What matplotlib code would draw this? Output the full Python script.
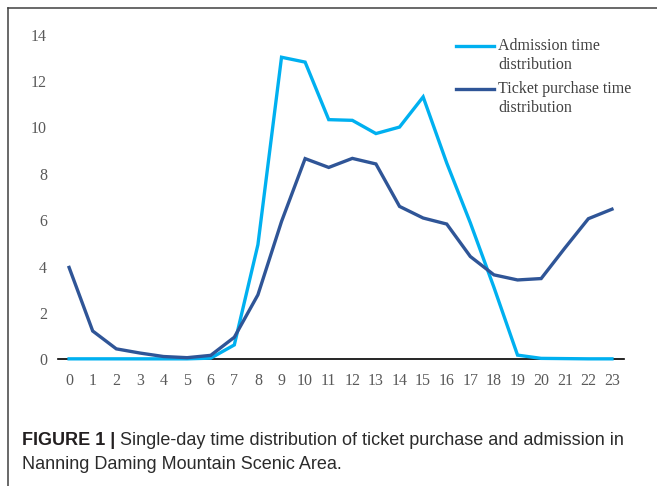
import matplotlib
matplotlib.use('Agg')
import matplotlib.pyplot as plt
from matplotlib.lines import Line2D

hours = list(range(24))
admission = [0.02, 0.02, 0.02, 0.02, 0.02, 0.02, 0.05, 0.62, 4.94, 13.02, 12.81, 10.33,
             10.30, 9.73, 10.01, 11.31, 8.46, 5.88, 3.10, 0.18, 0.04, 0.03, 0.02, 0.02]
ticket = [3.96, 1.22, 0.45, 0.27, 0.12, 0.07, 0.17, 0.95, 2.78, 5.94, 8.65, 8.27,
          8.66, 8.42, 6.59, 6.09, 5.83, 4.43, 3.64, 3.42, 3.48, 4.79, 6.06, 6.47]
y_ticks = [0, 2, 4, 6, 8, 10, 12, 14]
labels = ['Admission time\ndistribution', 'Ticket purchase time\ndistribution']

light = '#00b0f0'
dark = '#2f5597'
serif = ['Liberation Serif', 'DejaVu Serif']

fig = plt.figure(figsize=(6.57, 4.86), dpi=100)
ax = fig.add_axes([58 / 657, 1 - 359.3 / 486, (624 - 58) / 657, (359.3 - 34.5) / 486])

ax.plot(hours, admission, color=light, lw=2.4, solid_joinstyle='miter', clip_on=False, zorder=3)
ax.plot(hours, ticket, color=dark, lw=2.4, solid_joinstyle='miter', clip_on=False, zorder=3)

ax.set_xlim(-0.47, 23.51)
ax.set_ylim(0, 14)
ax.set_xticks(hours)
ax.set_yticks(y_ticks)
ax.tick_params(length=0, labelcolor='#595959', labelsize=11.5)
ax.tick_params(axis='x', pad=10)
ax.tick_params(axis='y', pad=8)
for lab in ax.get_xticklabels() + ax.get_yticklabels():
    lab.set_family(serif)
for s in ['top', 'right', 'left']:
    ax.spines[s].set_visible(False)
ax.spines['bottom'].set_color('black')
ax.spines['bottom'].set_linewidth(1.2)

# legend drawn by hand so the handle sits on the first text line
for i, (lab, col) in enumerate(zip(labels, [light, dark])):
    y = 1 - (45.5 + 43.5 * i - 34.5) / 324.8
    ax.add_line(Line2D([(456 - 58) / 566, (494 - 58) / 566], [y, y], color=col, lw=2.4,
                       transform=ax.transAxes, clip_on=False))
    ax.text((498 - 58) / 566, y + 0.024, lab, transform=ax.transAxes, va='top', ha='left',
            fontsize=11.5, color='#404040', family=serif, linespacing=1.25)

# frame of the figure panel (left and top only)
fig.add_artist(Line2D([8 / 657, 8 / 657], [0, 1 - 8 / 486], color='#404040', lw=1.1))
fig.add_artist(Line2D([8 / 657, 1], [1 - 8 / 486, 1 - 8 / 486], color='#404040', lw=1.1))

# caption
cap = ['Liberation Sans Narrow', 'Liberation Sans', 'DejaVu Sans']
t1 = fig.text(22 / 657, 1 - 445 / 486, 'FIGURE 1 |', fontsize=13, weight='bold',
              family=cap, color='#231f20', va='baseline')
fig.canvas.draw()
bb = t1.get_window_extent()
fig.text(bb.x1 / 657 + 5 / 657, 1 - 445 / 486,
         'Single-day time distribution of ticket purchase and admission in',
         fontsize=13, family=cap, color='#2b2b2b', va='baseline')
fig.text(22 / 657, 1 - 469 / 486, 'Nanning Daming Mountain Scenic Area.',
         fontsize=13, family=cap, color='#2b2b2b', va='baseline')

fig.savefig('out.png', dpi=100)
